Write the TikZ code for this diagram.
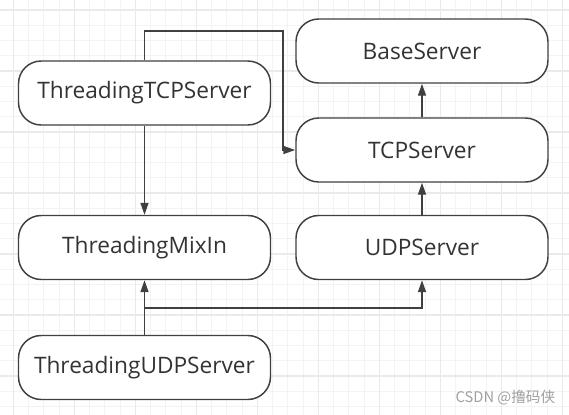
\documentclass[tikz,border=0pt]{standalone}
\usepackage{fontspec}
\setmainfont{Open Sans}
\newfontfamily\cjkfont{Noto Sans CJK SC}
\usetikzlibrary{arrows.meta}
\definecolor{gridminor}{RGB}{243,243,243}
\definecolor{gridmajor}{RGB}{234,234,234}
\definecolor{linegray}{RGB}{64,64,64}
\definecolor{textgray}{RGB}{51,51,51}
\tikzset{
  classbox/.style={draw=linegray,line width=1.1pt,fill=white,rounded corners=17pt,
    minimum width=189pt,minimum height=48pt,inner sep=0pt,
    font=\fontsize{17pt}{19pt}\selectfont,text=textgray},
  link/.style={draw=linegray,line width=1.1pt},
  inherit/.style={link,-{Triangle[length=9pt,width=6pt]}}
}
\begin{document}
\begin{tikzpicture}[x=0.75pt,y=-0.75pt]
\useasboundingbox (0,0) rectangle (569,415);
\fill[white] (0,0) rectangle (569,415);
% grid
\foreach \k in {0,...,36}
	\draw[gridminor,line width=0.75pt] ({13.3+15.25*\k},0) -- ({13.3+15.25*\k},415);
\foreach \k in {0,...,26}
	\draw[gridminor,line width=0.75pt] (0,{10+15.25*\k}) -- (569,{10+15.25*\k});
\foreach \k in {0,4,...,36}
	\draw[gridmajor,line width=1pt] ({13.3+15.25*\k},0) -- ({13.3+15.25*\k},415);
\foreach \k in {0,4,...,24}
	\draw[gridmajor,line width=1pt] (0,{10+15.25*\k}) -- (569,{10+15.25*\k});
% classes
\node[classbox] (base) at (422,51) {BaseServer};
\node[classbox] (tcp) at (422,150) {TCPServer};
\node[classbox] (udp) at (422,247.5) {UDPServer};
\node[classbox] (ttcp) at (144.5,93) {ThreadingTCPServer};
\node[classbox] (mixin) at (144.5,247.5) {ThreadingMixIn};
\node[classbox] (tudp) at (144.5,367.5) {ThreadingUDPServer};
% inheritance
\coordinate (over) at (283,31);
\coordinate (split) at (144.5,308);
\draw[inherit] (tcp) -- (base);
\draw[inherit] (udp) -- (tcp);
\draw[inherit] (ttcp) -- (mixin);
\draw[inherit] (ttcp.north) |- (over) |- (tcp.west);
\draw[inherit] (tudp) -- (mixin);
\draw[inherit] (split) -| (udp.south);
\node[anchor=west,text={rgb,255:red,160;green,160;blue,160},font=\cjkfont\fontsize{11pt}{12pt}\selectfont] (mark) at (451,398) {CSDN @撸码侠};
\end{tikzpicture}
\end{document}
